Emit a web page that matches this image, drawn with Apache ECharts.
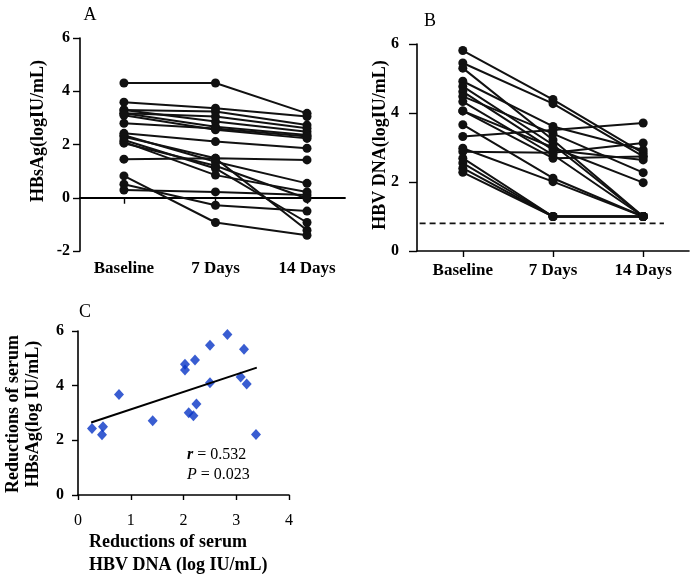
<!DOCTYPE html>
<html>
<head>
<meta charset="utf-8">
<script src="https://cdn.jsdelivr.net/npm/echarts@6/dist/echarts.min.js"></script>
<style>html,body{margin:0;padding:0;background:#fff}#chart{width:700px;height:576px}</style>
</head>
<body>
<div id="chart"></div>
<script>
// ---- data ----
const timeLabels = ['Baseline', '7 Days', '14 Days'];
const timeIndex = [0, 1, 2];

// Panel A: HBsAg (log IU/mL) per patient at Baseline, 7 Days, 14 Days
const hbsagBaseline = [4.31, 3.59, 3.30, 3.30, 3.17, 3.17, 3.10, 2.80, 2.42, 2.35, 2.29, 2.17, 2.10, 2.05, 1.45, 0.82, 0.51, 0.29];
const hbsagDay7     = [4.31, 3.36, 3.24, 2.86, 3.05, 2.67, 2.55, 2.60, 2.11, 1.35, 1.48, 1.10, 0.85, 1.20, 1.48, -0.93, -0.28, 0.22];
const hbsagDay14    = [3.17, 3.05, 2.73, 2.48, 2.61, 2.36, 2.23, 2.30, 1.86, 0.54, -1.22, -0.93, 0.22, -0.03, 1.42, -1.41, -0.50, 0.10];

// Panel B: HBV DNA (log IU/mL)
const dnaBaseline = [5.81, 5.45, 5.30, 4.92, 4.77, 4.62, 4.48, 4.33, 4.06, 4.06, 3.66, 3.32, 2.98, 2.88, 2.69, 2.55, 2.40, 2.28];
const dnaDay7     = [4.39, 4.27, 3.22, 3.61, 3.08, 2.93, 3.40, 2.79, 2.69, 3.00, 2.11, 3.51, 2.01, 2.85, 1.00, 1.00, 1.00, 1.00];
const dnaDay14    = [2.84, 2.74, 1.00, 2.93, 1.00, 2.64, 2.27, 1.00, 2.74, 1.98, 1.00, 3.71, 1.00, 3.13, 1.00, 1.00, 1.00, 1.00];
const dnaLimit = 0.8;
const dnaLimitSpan = [-0.59, 2.23];

// Panel C: reductions
const reductionDna    = [0.265, 0.474, 0.455, 0.777, 1.416, 2.028, 2.028, 2.099, 2.188, 2.218, 2.245, 2.502, 2.502, 2.832, 3.084, 3.147, 3.198, 3.374];
const reductionHbsag  = [2.43, 2.50, 2.20, 3.68, 2.72, 4.78, 4.57, 3.01, 2.90, 4.94, 3.33, 5.48, 4.11, 5.87, 4.32, 5.33, 4.06, 2.21];
const fitX = [0.25, 3.39];
const fitY = [2.65, 4.66];

const yTicksA = [-2, 0, 2, 4, 6];
const yTicksB = [0, 2, 4, 6];
const xTicksC = [0, 1, 2, 3, 4];
const yTicksC = [0, 2, 4, 6];

// ---- build ----
const SERIF = '"Liberation Serif", "Times New Roman", serif';
const chart = echarts.init(document.getElementById('chart'), null, {renderer: 'canvas'});

function axisCommon(extra) {
  return Object.assign({
    splitLine: {show: false},
    axisLine: {show: true, lineStyle: {color: '#000', width: 1.6}},
    axisTick: {show: true, length: 6, lineStyle: {color: '#000', width: 1.4}},
    axisLabel: {color: '#000', fontFamily: SERIF, fontWeight: 'bold', fontSize: 16}
  }, extra);
}

const series = [];
for (let i = 0; i < hbsagBaseline.length; i++) {
  const vals = [hbsagBaseline[i], hbsagDay7[i], hbsagDay14[i]];
  series.push({
    type: 'line', xAxisIndex: 0, yAxisIndex: 0,
    data: timeIndex.map((t, k) => [t, vals[k]]),
    symbol: 'circle', symbolSize: 9,
    lineStyle: {color: '#111', width: 2},
    itemStyle: {color: '#111'}, silent: true
  });
}
for (let i = 0; i < dnaBaseline.length; i++) {
  const vals = [dnaBaseline[i], dnaDay7[i], dnaDay14[i]];
  series.push({
    type: 'line', xAxisIndex: 1, yAxisIndex: 1,
    data: timeIndex.map((t, k) => [t, vals[k]]),
    symbol: 'circle', symbolSize: 9,
    lineStyle: {color: '#111', width: 2},
    itemStyle: {color: '#111'}, silent: true
  });
}
series.push({
  type: 'line', xAxisIndex: 1, yAxisIndex: 1, clip: false,
  data: dnaLimitSpan.map(x => [x, dnaLimit]),
  symbol: 'none', lineStyle: {color: '#111', width: 1.8, type: [6, 4]}, silent: true
});
series.push({
  type: 'line', xAxisIndex: 2, yAxisIndex: 2,
  data: fitX.map((x, k) => [x, fitY[k]]),
  symbol: 'none', lineStyle: {color: '#000', width: 2}, silent: true
});
series.push({
  type: 'scatter', xAxisIndex: 2, yAxisIndex: 2,
  data: reductionDna.map((x, k) => [x, reductionHbsag[k]]),
  symbol: 'diamond', symbolSize: [10, 11],
  itemStyle: {color: '#0834c6'}, silent: true
});

const option = {
  animation: false,
  backgroundColor: '#fff',
  grid: [
    {left: 80, top: 38, width: 265, height: 213},
    {left: 417, top: 44, width: 272, height: 207},
    {left: 78, top: 331, width: 211, height: 164}
  ],
  xAxis: [
    axisCommon({
      type: 'value', gridIndex: 0, min: -0.48, max: 2.415,
      axisLine: {show: true, onZero: true, lineStyle: {color: '#000', width: 1.8}},
      axisTick: {show: true, length: 6, customValues: timeIndex, lineStyle: {color: '#000', width: 1.4}},
      axisLabel: {color: '#000', fontFamily: SERIF, fontWeight: 'bold', fontSize: 17, margin: 9,
                  customValues: timeIndex, formatter: v => timeLabels[Math.round(v)]}
    }),
    axisCommon({
      type: 'value', gridIndex: 1, min: -0.508, max: 2.508,
      axisTick: {show: true, length: 6, customValues: timeIndex, lineStyle: {color: '#000', width: 1.4}},
      axisLabel: {color: '#000', fontFamily: SERIF, fontWeight: 'bold', fontSize: 17, margin: 11,
                  customValues: timeIndex, formatter: v => timeLabels[Math.round(v)]}
    }),
    axisCommon({
      type: 'value', gridIndex: 2, min: 0, max: 4, interval: 1,
      axisLabel: {color: '#000', fontFamily: SERIF, fontSize: 16, margin: 18,
                  customValues: xTicksC},
      axisTick: {show: true, length: 5, customValues: xTicksC, lineStyle: {color: '#000', width: 1.4}}
    })
  ],
  yAxis: [
    axisCommon({
      type: 'value', gridIndex: 0, min: -2, max: 6, interval: 2,
      axisLine: {show: true, onZero: false, lineStyle: {color: '#000', width: 1.6}},
      axisLabel: {color: '#000', fontFamily: SERIF, fontWeight: 'bold', fontSize: 16, margin: 10, customValues: yTicksA},
      axisTick: {show: true, length: 7, customValues: yTicksA, lineStyle: {color: '#000', width: 1.4}}
    }),
    axisCommon({
      type: 'value', gridIndex: 1, min: 0, max: 6, interval: 2,
      axisLine: {show: true, onZero: false, lineStyle: {color: '#000', width: 1.6}},
      axisLabel: {color: '#000', fontFamily: SERIF, fontWeight: 'bold', fontSize: 16, margin: 18, customValues: yTicksB},
      axisTick: {show: true, length: 8, customValues: yTicksB, lineStyle: {color: '#000', width: 1.4}}
    }),
    axisCommon({
      type: 'value', gridIndex: 2, min: 0, max: 6, interval: 2,
      axisLine: {show: true, onZero: false, lineStyle: {color: '#000', width: 1.6}},
      axisLabel: {color: '#000', fontFamily: SERIF, fontWeight: 'bold', fontSize: 16, margin: 14, customValues: yTicksC},
      axisTick: {show: true, length: 6, customValues: yTicksC, lineStyle: {color: '#000', width: 1.4}}
    })
  ],
  series: series,
  graphic: [
    {type: 'text', x: 90, y: 15, style: {text: 'A', font: '18px ' + SERIF, fill: '#000', align: 'center', verticalAlign: 'middle'}},
    {type: 'text', x: 430, y: 21, style: {text: 'B', font: '18px ' + SERIF, fill: '#000', align: 'center', verticalAlign: 'middle'}},
    {type: 'text', x: 85, y: 312, style: {text: 'C', font: '18px ' + SERIF, fill: '#000', align: 'center', verticalAlign: 'middle'}},
    {type: 'text', x: 38, y: 131, rotation: Math.PI / 2,
     style: {text: 'HBsAg(logIU/mL)', font: 'bold 18px ' + SERIF, fill: '#000', align: 'center', verticalAlign: 'middle'}},
    {type: 'text', x: 380, y: 145, rotation: Math.PI / 2,
     style: {text: 'HBV DNA(logIU/mL)', font: 'bold 18px ' + SERIF, fill: '#000', align: 'center', verticalAlign: 'middle'}},
    {type: 'text', x: 23, y: 414, rotation: Math.PI / 2,
     style: {text: 'Reductions of serum\nHBsAg(log IU/mL)', font: 'bold 18px ' + SERIF, lineHeight: 20, fill: '#000', align: 'center', verticalAlign: 'middle'}},
    {type: 'text', x: 89, y: 542,
     style: {text: 'Reductions of serum', font: 'bold 18px ' + SERIF, fill: '#000', align: 'left', verticalAlign: 'middle'}},
    {type: 'text', x: 89, y: 565,
     style: {text: 'HBV DNA (log IU/mL)', font: 'bold 18px ' + SERIF, fill: '#000', align: 'left', verticalAlign: 'middle'}},
    {type: 'text', x: 187, y: 455,
     style: {text: '{i|r} = 0.532', font: '16px ' + SERIF, fill: '#000', align: 'left', verticalAlign: 'middle',
             rich: {i: {font: 'italic bold 16px ' + SERIF, fill: '#000'}}}},
    {type: 'text', x: 187, y: 475,
     style: {text: '{i|P} = 0.023', font: '16px ' + SERIF, fill: '#000', align: 'left', verticalAlign: 'middle',
             rich: {i: {font: 'italic 16px ' + SERIF, fill: '#000'}}}}
  ]
};
chart.setOption(option);
</script>
</body>
</html>
